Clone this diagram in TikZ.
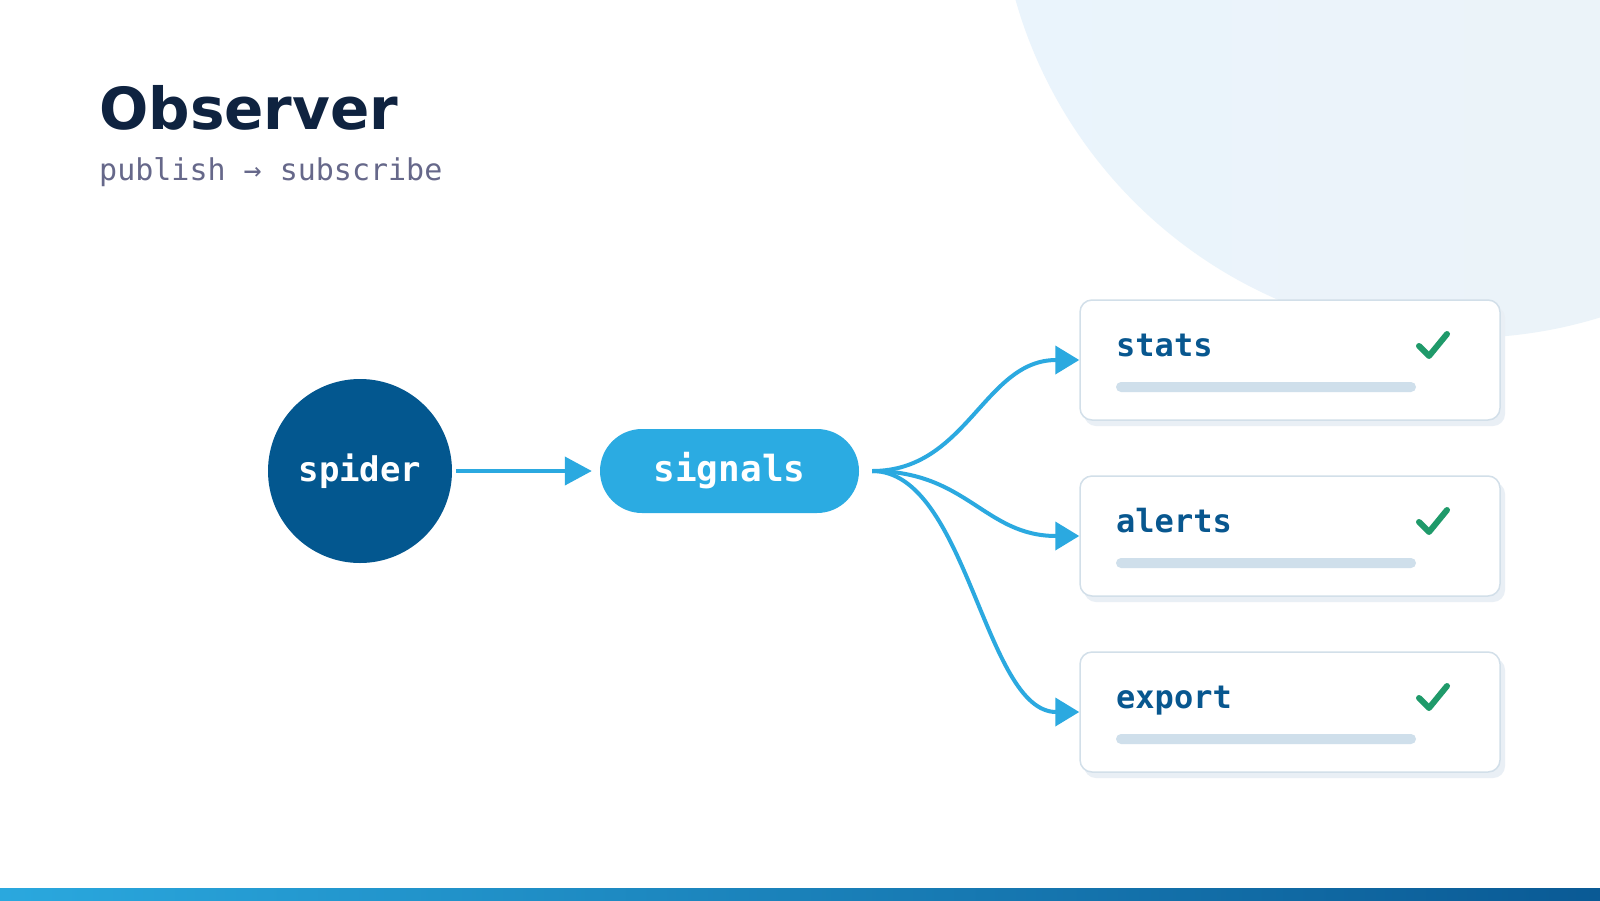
\documentclass[tikz,border=0pt]{standalone}
\usepackage{fontspec}
\setmainfont{DejaVu Sans}
\newfontfamily\monof{DejaVu Sans Mono}
\usetikzlibrary{arrows.meta}
\definecolor{bgL}{HTML}{EAF4FC}
\definecolor{bgR}{HTML}{ECF2F7}
\definecolor{titlec}{HTML}{0F2340}
\definecolor{subc}{HTML}{66688A}
\definecolor{spiderc}{HTML}{03578F}
\definecolor{sigc}{HTML}{2BABE2}
\definecolor{connc}{HTML}{2BA9E0}
\definecolor{cardborder}{HTML}{D2DFE9}
\definecolor{cardshadow}{HTML}{E9EFF5}
\definecolor{labelc}{HTML}{08578F}
\definecolor{barc}{HTML}{CFDFEB}
\definecolor{checkc}{HTML}{1F9A6A}
\definecolor{barL}{HTML}{2AA8DE}
\definecolor{barR}{HTML}{0A5A95}
\begin{document}
\begin{tikzpicture}[x=1pt,y=-1pt,
  conn/.style={draw=connc, line width=4pt, -{Triangle[length=27pt,width=28pt]}},
  fanconn/.style={draw=connc, line width=4pt, -{Triangle[length=24pt,width=28pt]}},
  cardbox/.style={rectangle, rounded corners=12pt, minimum width=420pt, minimum height=120pt, draw=cardborder, line width=1.5pt, fill=white, inner sep=0pt},
  cardshade/.style={fill=cardshadow, rounded corners=12pt},
  cardlabel/.style={anchor=base west, inner sep=0pt, text=labelc, font=\monof\bfseries\fontsize{32}{38}\selectfont},
  cardbar/.style={fill=barc, rounded corners=5pt},
  checkmk/.style={draw=checkc, line width=6pt, line cap=round, line join=round},
  bignode/.style={text=white, inner sep=0pt}
]
\useasboundingbox (0,0) rectangle (1600,900);
\fill[white] (0,0) rectangle (1600,900);
% background circle
\shade[left color=bgL, right color=bgR] (1463,-127) circle (465pt);
% bottom bar
\shade[left color=barL, right color=barR] (0,888) rectangle (1600,900);
% title
\node[anchor=base west, inner sep=0pt, text=titlec, font=\fontsize{58}{64}\selectfont\bfseries] (title) at (99,129) {Observer};
\node[anchor=base west, inner sep=0pt, text=subc, font=\monof\fontsize{30}{36}\selectfont] (sub) at (99,180) {publish → subscribe};
% spider and signals
\node[bignode, circle, fill=spiderc, minimum size=184pt, font=\monof\bfseries\fontsize{34}{40}\selectfont] (spider) at (360,471) {spider};
\node[bignode, rectangle, rounded corners=42pt, minimum width=259pt, minimum height=84pt, fill=sigc, font=\monof\bfseries\fontsize{36}{42}\selectfont] (signals) at (729.5,471) {signals};
\draw[conn, shorten <=4pt, shorten >=8pt] (spider.east) -- (signals.west);
% cards
\foreach \cy/\nm/\lab in {360/c1/stats, 536/c2/alerts, 712/c3/export}{
  \fill[cardshade] (1084,\cy-54) rectangle (1505,\cy+66);
  \node[cardbox] (\nm) at (1290,\cy) {};
  \node[cardlabel] (\nm lab) at (1116,\cy-4) {\lab};
  \fill[cardbar] (1116,\cy+22) rectangle (1416,\cy+32);
  \draw[checkmk] (1419,\cy-14) -- (1429,\cy-4) -- (1447,\cy-26);
}
% fan-out connectors
\coordinate (fan) at ([xshift=13pt]signals.east);
\draw[fanconn] (fan) .. controls +(95,0) and +(-95,0) .. (c1.west);
\draw[fanconn] (fan) .. controls +(95,0) and +(-95,0) .. (c2.west);
\draw[fanconn] (fan) .. controls +(95,0) and +(-95,0) .. (c3.west);
\end{tikzpicture}
\end{document}
